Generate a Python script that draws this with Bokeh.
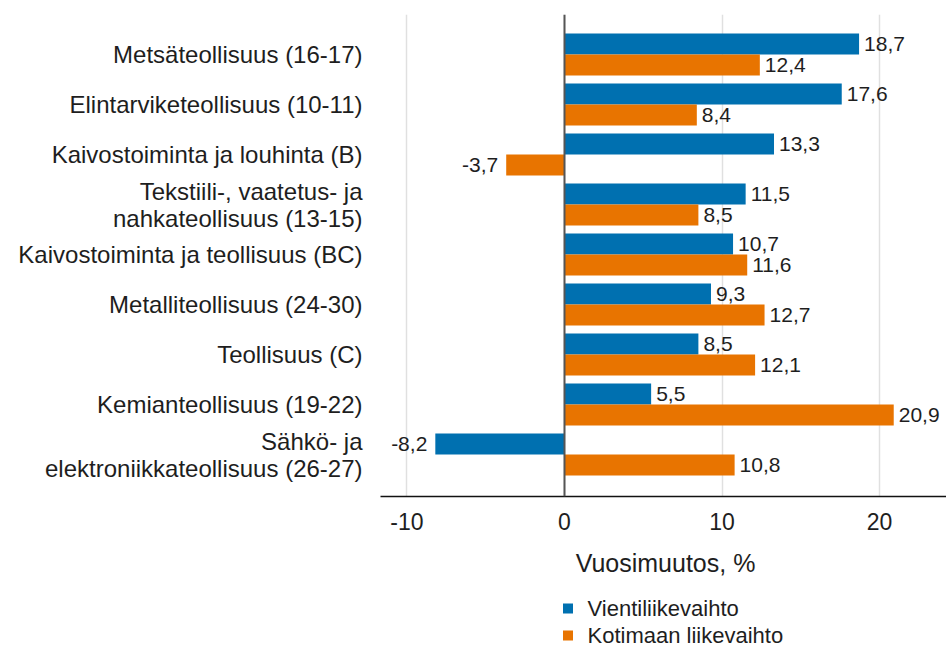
from bokeh.plotting import figure
from bokeh.layouts import column
from bokeh.models import (ColumnDataSource, Range1d, FixedTicker, Span, LabelSet)
from bokeh.core.properties import value
from bokeh.embed import file_html
from bokeh.resources import INLINE

categories = ["Metsäteollisuus (16-17)", "Elintarviketeollisuus (10-11)",
              "Kaivostoiminta ja louhinta (B)", "Tekstiili-, vaatetus- ja\nnahkateollisuus (13-15)",
              "Kaivostoiminta ja teollisuus (BC)", "Metalliteollisuus (24-30)",
              "Teollisuus (C)", "Kemianteollisuus (19-22)",
              "Sähkö- ja\nelektroniikkateollisuus (26-27)"]
vienti = [18.7, 17.6, 13.3, 11.5, 10.7, 9.3, 8.5, 5.5, -8.2]
kotimaa = [12.4, 8.4, -3.7, 8.5, 11.6, 12.7, 12.1, 20.9, 10.8]
series_names = ["Vientiliikevaihto", "Kotimaan liikevaihto"]
x_ticks = [-10, 0, 10, 20]
x_tick_labels = ["-10", "0", "10", "20"]
axis_title = "Vuosimuutos, %"

BLUE = "#0070b0"
ORANGE = "#e87400"
series_colors = [BLUE, ORANGE]
TXT = "#1e1e1e"
FONT = "Liberation Sans"

idx = list(range(len(categories)))
BAR_H = 0.42
OFF = 0.21

def fmt(v):
    return f"{v:.1f}".replace(".", ",")

def src_for(vals, off, positive):
    sel = [i for i in idx if (vals[i] >= 0) == positive]
    return ColumnDataSource(dict(
        y=[i + off for i in sel],
        v=[vals[i] for i in sel],
        lab=[fmt(vals[i]) for i in sel],
    ))

# ---- main chart ----
p = figure(width=946, height=540, output_backend="svg", toolbar_location=None,
           x_range=Range1d(-11.68, 24.25), y_range=Range1d(8.84, -0.8),
           min_border_left=380, min_border_right=0, min_border_top=14,
           min_border_bottom=44, outline_line_color=None)

sv = ColumnDataSource(dict(y=[i - OFF for i in idx], v=vienti))
sk = ColumnDataSource(dict(y=[i + OFF for i in idx], v=kotimaa))
p.hbar(y="y", right="v", left=0, height=BAR_H, source=sv, fill_color=BLUE, line_color=None)
p.hbar(y="y", right="v", left=0, height=BAR_H, source=sk, fill_color=ORANGE, line_color=None)

for vals, off in ((vienti, -OFF), (kotimaa, OFF)):
    for positive in (True, False):
        s = src_for(vals, off, positive)
        p.add_layout(LabelSet(x="v", y="y", text="lab", source=s,
                              x_offset=5 if positive else -8,
                              text_align="left" if positive else "right",
                              text_baseline="middle", text_font_size="21px",
                              text_font=value(FONT), text_color=TXT))

p.add_layout(Span(location=0, dimension="height", line_color="#555555", line_width=2))

p.xgrid.ticker = FixedTicker(ticks=x_ticks)
p.xgrid.grid_line_color = "#e0e0e0"
p.xgrid.grid_line_width = 1.5
p.ygrid.grid_line_color = None

p.xaxis.ticker = FixedTicker(ticks=x_ticks)
p.xaxis.major_label_overrides = dict(zip(x_ticks, x_tick_labels))
p.xaxis.axis_line_color = "#111111"
p.xaxis.axis_line_width = 1.5
p.xaxis.major_tick_line_color = None
p.xaxis.minor_tick_line_color = None
p.xaxis.major_label_text_font_size = "23px"
p.xaxis.major_label_text_font = FONT
p.xaxis.major_label_text_color = TXT
p.xaxis.major_label_standoff = 10

p.yaxis.ticker = FixedTicker(ticks=idx)
p.yaxis.major_label_overrides = {i: c for i, c in enumerate(categories)}
p.yaxis.axis_line_color = None
p.yaxis.major_tick_line_color = None
p.yaxis.minor_tick_line_color = None
p.yaxis.major_label_text_font_size = "24px"
p.yaxis.major_label_text_font = FONT
p.yaxis.major_label_text_color = TXT
p.yaxis.major_label_text_line_height = 1.0
p.yaxis.major_label_standoff = 12

# ---- axis title and legend strip (frame aligned with the main chart: x 380..946 px) ----
p2 = figure(width=946, height=106, output_backend="svg", toolbar_location=None,
            x_range=Range1d(380, 946), y_range=Range1d(106, 0),
            min_border_left=380, min_border_right=0, min_border_top=0, min_border_bottom=0,
            outline_line_color=None, x_axis_location=None, y_axis_location=None)
p2.grid.visible = False

p2.text(x=[665], y=[22], text=[axis_title], text_align="center", text_baseline="middle",
        text_font=value(FONT), text_font_size="25px", text_color=TXT)

leg_y = [68, 95]
p2.scatter(x=[567.5] * len(series_names), y=leg_y, marker="square", size=10,
           fill_color=series_colors, line_color=None)
p2.text(x=[587] * len(series_names), y=leg_y, text=series_names, text_align="left",
        text_baseline="middle", text_font=value(FONT), text_font_size="22px", text_color=TXT)

layout = column(p, p2, spacing=0)
open("out.html", "w").write(file_html(layout, INLINE))
